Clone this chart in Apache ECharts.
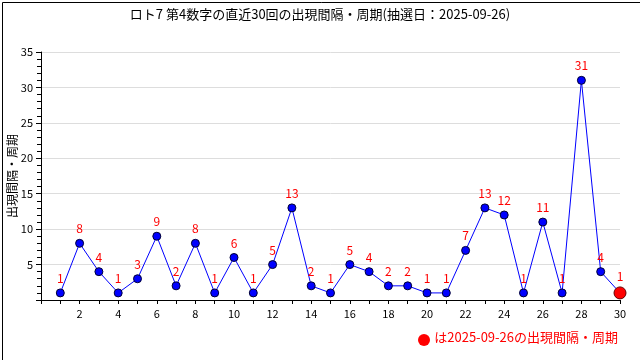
<!DOCTYPE html>
<html><head><meta charset="utf-8">
<script src="https://cdn.jsdelivr.net/npm/echarts@6/dist/echarts.min.js"></script>
<style>html,body{margin:0;padding:0;background:#fff}#c{width:640px;height:360px}</style>
</head><body><div id="c"></div>
<script>
var titleText = 'ロト7 第4数字の直近30回の出現間隔・周期(抽選日：2025-09-26)';
var yAxisName = '出現間隔・周期';
var legendText = 'は2025-09-26の出現間隔・周期';
var rounds = [1,2,3,4,5,6,7,8,9,10,11,12,13,14,15,16,17,18,19,20,21,22,23,24,25,26,27,28,29,30];
var intervals = [1,8,4,1,3,9,2,8,1,6,1,5,13,2,1,5,4,2,2,1,1,7,13,12,1,11,1,31,4,1];

var font = '"Noto Sans CJK JP", "DejaVu Sans", sans-serif';
var data = rounds.map(function(r, i){
  var item = {value: [r, intervals[i]]};
  if (i === rounds.length - 1) {
    item.symbolSize = 12;
    item.itemStyle = {color: '#ff0000', borderColor: '#660000'};
  }
  return item;
});

var chart = echarts.init(document.getElementById('c'), null, {renderer: 'canvas'});
chart.setOption({
  animation: false,
  backgroundColor: '#fff',
  title: {text: titleText, left: 'center', top: 3,
    textStyle: {fontFamily: font, fontSize: 13, fontWeight: 'normal', color: '#000'}},
  grid: {left: 41, right: 20, top: 52, bottom: 60, containLabel: false, outerBoundsMode: 'none'},
  xAxis: {type: 'value', min: 0, max: 30, interval: 2,
    axisLine: {show: true, lineStyle: {color: '#000', width: 1}},
    axisTick: {show: true, length: 4, lineStyle: {color: '#000'}},
    minorTick: {show: true, splitNumber: 2, length: 4, lineStyle: {color: '#000'}},
    splitLine: {show: false},
    axisLabel: {color: '#000', fontFamily: font, fontSize: 11, margin: 8,
      formatter: function(v){ return v === 0 ? '' : String(v); }}},
  yAxis: {type: 'value', min: 0, max: 35, interval: 5,
    name: yAxisName, nameLocation: 'middle', nameRotate: 90, nameGap: 23,
    nameMoveOverlap: false,
    nameTextStyle: {fontFamily: font, fontSize: 12, color: '#000'},
    axisLine: {show: true, lineStyle: {color: '#000', width: 1}},
    axisTick: {show: true, length: 5, lineStyle: {color: '#000'}},
    minorTick: {show: true, splitNumber: 5, length: 4, lineStyle: {color: '#000'}},
    splitLine: {show: true, lineStyle: {color: '#dddddd', width: 1}},
    axisLabel: {color: '#000', fontFamily: font, fontSize: 11, margin: 8,
      formatter: function(v){ return v === 0 ? '' : String(v); }}},
  series: [{
    type: 'line', data: data, symbol: 'circle', symbolSize: 8,
    lineStyle: {color: '#0000ff', width: 1},
    itemStyle: {color: '#0000ff', borderColor: '#000033', borderWidth: 1},
    label: {show: true, position: 'top', distance: 4, color: '#ff0000',
      fontFamily: font, fontSize: 12,
      formatter: function(p){ return p.value[1]; }},
    z: 3
  }],
  graphic: [
    {type: 'rect', left: 0, top: 0, shape: {x: 0.5, y: 0.5, width: 639, height: 359},
      style: {fill: 'none', stroke: '#000', lineWidth: 1}, silent: true},
    {type: 'circle', shape: {cx: 424, cy: 340, r: 6}, style: {fill: '#ff0000'}},
    {type: 'text', right: 22, top: 331,
      style: {text: legendText, fill: '#ff0000', font: '13px ' + font}}
  ]
});
</script></body></html>
